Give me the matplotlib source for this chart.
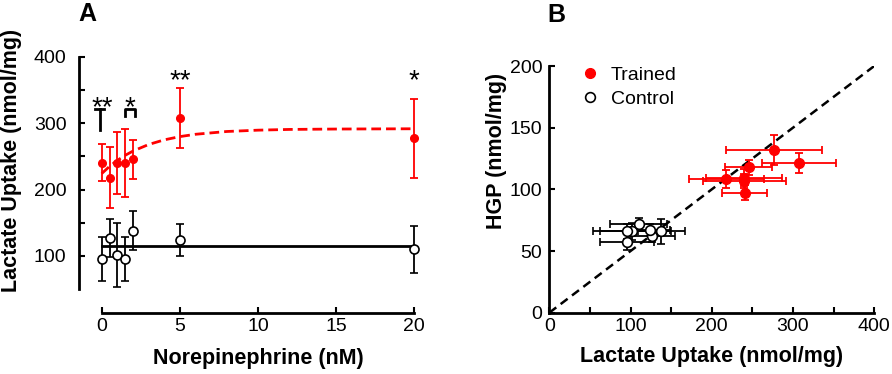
import numpy as np
from matplotlib import pyplot as plt
from matplotlib.ticker import MultipleLocator

plt.rcParams["font.family"] = ["Liberation Sans", "DejaVu Sans"]

# Panel A: lactate uptake vs norepinephrine
ne_conc = [0, 0.5, 1, 1.5, 2, 5, 20]
trained_uptake = [240.5, 218, 240, 240, 245.6, 307.4, 277]
trained_uptake_err = [28, 46, 47, 51, 29, 45, 59]
control_uptake = [95.5, 127, 102, 95.5, 138, 124, 110]
control_uptake_err = [33, 28, 48, 33, 29, 24, 35]
control_mean = 115.5

# dashed fit line for trained
fit_x = [0, 0.5, 1, 1.5, 2, 3, 4, 5, 6, 8, 10, 12, 15, 20]
fit_y = [224, 234.8, 243.9, 251.5, 257.9, 267.8, 274.8, 279.7, 283.2, 287.4, 289.4, 290.5, 291.1, 291.5]

# Panel B: HGP vs lactate uptake
trained_hgp = [97.3, 108.5, 109.5, 106.8, 118, 121.6, 132]
trained_hgp_err = [6, 7, 7, 6, 6, 8, 12]
control_hgp = [57.5, 62, 66, 66, 66, 67, 72]
control_hgp_err = [7, 5, 7, 6, 10, 5, 5]
identity_x = [0, 400]
identity_y = [0, 200]

red = "#ff0000"
tick_fs = 14
label_fs = 15.5

fig = plt.figure(figsize=(8.92, 3.74), dpi=100)
ax1 = fig.add_axes([0.0886, 0.1639, 0.3846, 0.6845])
ax2 = fig.add_axes([0.6158, 0.1639, 0.3643, 0.6596])

# ---- A ----
ax1.errorbar(ne_conc, trained_uptake, yerr=trained_uptake_err, fmt="o", color=red,
             ms=5.5, elinewidth=1.3, capsize=3, capthick=1.3, zorder=3)
ax1.plot(fit_x, fit_y, color=red, lw=2, dashes=(3.5, 1.8), zorder=2)
ax1.plot([0, 20], [control_mean, control_mean], color="black", lw=2, zorder=2)
ax1.errorbar(ne_conc, control_uptake, yerr=control_uptake_err, fmt="o", color="black",
             mfc="white", mec="black", mew=1.2, ms=6.5, elinewidth=1.3, capsize=3,
             capthick=1.3, zorder=4)

# significance marks
ax1.text(0.05, 312, "**", ha="center", va="baseline", fontsize=20)
ax1.text(1.81, 312, "*", ha="center", va="baseline", fontsize=20)
ax1.text(5, 352, "**", ha="center", va="baseline", fontsize=20)
ax1.text(20, 352, "*", ha="center", va="baseline", fontsize=20)
ax1.plot([-0.13, -0.13], [290, 322], color="black", lw=2)
ax1.plot([-0.43, 0.17], [322, 322], color="black", lw=2)
ax1.plot([1.48, 1.48, 2.1, 2.1], [311, 322, 322, 311], color="black", lw=2)

ax1.set_xlim(-1.45, 20.5)
ax1.set_ylim(14.6, 400)
ax1.spines["top"].set_visible(False)
ax1.spines["right"].set_visible(False)
ax1.spines["left"].set_bounds(50, 400)
ax1.spines["bottom"].set_bounds(0, 20)
ax1.set_xticks([0, 5, 10, 15, 20])
ax1.set_yticks([100, 200, 300, 400])
ax1.set_yticks([150, 250, 350], minor=True)
ax1.tick_params(which="both", direction="in", length=4, width=1.5, labelsize=tick_fs)
ax1.tick_params(axis="y", pad=9)
ax1.tick_params(axis="x", pad=4)
for s in ["left", "bottom"]:
    ax1.spines[s].set_linewidth(2)
ax1.set_xlabel("Norepinephrine (nM)", fontsize=label_fs, fontweight="bold")
ax1.set_ylabel("Lactate Uptake (nmol/mg)", fontsize=label_fs, fontweight="bold")
ax1.xaxis.set_label_coords(0.524, -0.138)
ax1.yaxis.set_label_coords(-0.166, 0.596)
fig.text(78 / 892, 1 - 21 / 374, "A", fontsize=18, fontweight="bold", ha="left", va="baseline")

# ---- B ----
ax2.plot(identity_x, identity_y, color="black", lw=1.8, dashes=(3.5, 2.2), zorder=1)
ax2.errorbar(trained_uptake, trained_hgp, xerr=trained_uptake_err, yerr=trained_hgp_err,
             fmt="o", color=red, ms=7, elinewidth=1.3, capsize=3, capthick=1.3,
             label="Trained", zorder=3)
ax2.errorbar(control_uptake, control_hgp, xerr=control_uptake_err, yerr=control_hgp_err,
             fmt="o", color="black", mfc="white", mec="black", mew=1.2, ms=7,
             elinewidth=1.3, capsize=3, capthick=1.3, label="Control", zorder=3)

ax2.set_xlim(0, 400)
ax2.set_ylim(0, 200)
ax2.spines["top"].set_visible(False)
ax2.spines["right"].set_visible(False)
for s in ["left", "bottom"]:
    ax2.spines[s].set_linewidth(2)
ax2.set_xticks([0, 100, 200, 300, 400])
ax2.set_xticks([50, 150, 250, 350], minor=True)
ax2.set_yticks([0, 50, 100, 150, 200])
ax2.tick_params(which="both", direction="in", length=4, width=1.5, labelsize=tick_fs)
ax2.tick_params(axis="y", pad=5)
ax2.tick_params(axis="x", pad=4)
ax2.set_xlabel("Lactate Uptake (nmol/mg)", fontsize=label_fs, fontweight="bold")
ax2.set_ylabel("HGP (nmol/mg)", fontsize=label_fs, fontweight="bold")
ax2.xaxis.set_label_coords(0.5, -0.135)
ax2.yaxis.set_label_coords(-0.13, 0.655)

handles, labels = ax2.get_legend_handles_labels()
handles = [h[0] for h in handles]
ax2.legend(handles, labels, loc="upper left", bbox_to_anchor=(0.0945, 1.0), frameon=False,
           fontsize=14, handlelength=1, handletextpad=0.6, borderpad=0, borderaxespad=0,
           labelspacing=0.35)
fig.text(547 / 892, 1 - 21.5 / 374, "B", fontsize=18, fontweight="bold", ha="left", va="baseline")

fig.savefig("out.png", dpi=100)
